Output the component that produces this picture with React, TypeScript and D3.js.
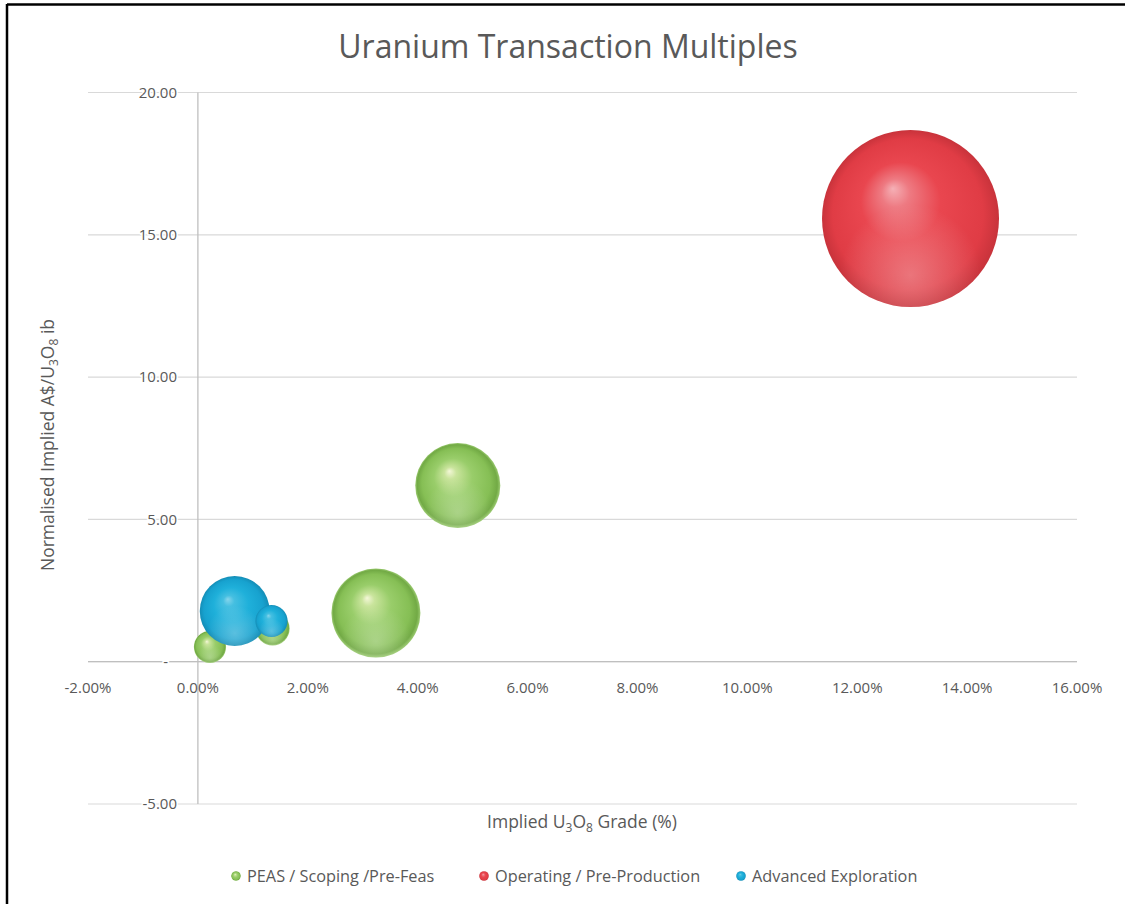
import React from "react";
import * as d3 from "d3";

const W = 1125;
const H = 904;

// Data (x = implied grade %, y = normalised A$/lb, size = bubble size)
const peasX = [0.22, 1.36, 3.24, 4.73];
const peasY = [0.52, 1.17, 1.71, 6.19];
const peasSize = [3.3, 3.7, 25.3, 23.1];

const opX = [12.97];
const opY = [15.57];
const opSize = [100];

const advX = [0.67, 1.34];
const advY = [1.78, 1.43];
const advSize = [15.6, 3.3];

const xTicks = [-2, 0, 2, 4, 6, 8, 10, 12, 14, 16];
const yTicks = [-5, 0, 5, 10, 15, 20];

const seriesNames = ["PEAS / Scoping /Pre-Feas", "Operating / Pre-Production", "Advanced Exploration"];
const seriesIds = ["gGreen", "gRed", "gBlue"];

const FONT = "'Open Sans', 'Noto Sans', sans-serif";
const TXT = "#595959";

export default function App() {
  const x = d3.scaleLinear().domain([-2, 16]).range([88, 1077]);
  const y = d3.scaleLinear().domain([-5, 20]).range([804, 92.5]);
  const r = d3.scaleSqrt().domain([0, 100]).range([0, 88.5]);

  const series = [
    { id: seriesIds[0], xs: peasX, ys: peasY, ss: peasSize },
    { id: seriesIds[1], xs: opX, ys: opY, ss: opSize },
    { id: seriesIds[2], xs: advX, ys: advY, ss: advSize },
  ];

  const f2 = d3.format(".2f");
  const fmtY = (v: number) => (v === 0 ? "-" : f2(v).replace("\u2212", "-"));
  const fmtX = (v: number) => f2(v).replace("\u2212", "-") + "%";

  const legendX = [236, 484, 741];

  return (
    <svg
      width={W}
      height={H}
      style={{ position: "absolute", left: 0, top: 0, background: "#fff" }}
      fontFamily={FONT}
    >
      <defs>
        <radialGradient id="gGreen" cx="50%" cy="50%" r="50%" fx="40%" fy="33%">
          <stop offset="0%" stopColor="#f4f7d8" />
          <stop offset="14%" stopColor="#c9e49c" />
          <stop offset="45%" stopColor="#99cd6a" />
          <stop offset="80%" stopColor="#86bf55" />
          <stop offset="94%" stopColor="#72aa45" />
          <stop offset="100%" stopColor="#9ccb72" />
        </radialGradient>
        <radialGradient id="gRed" cx="50%" cy="50%" r="50%" fx="40%" fy="33%">
          <stop offset="0%" stopColor="#f5b0b6" />
          <stop offset="16%" stopColor="#ee7a82" />
          <stop offset="45%" stopColor="#e9464f" />
          <stop offset="85%" stopColor="#e03c45" />
          <stop offset="100%" stopColor="#c8333b" />
        </radialGradient>
        <radialGradient id="gBlue" cx="50%" cy="50%" r="50%" fx="40%" fy="33%">
          <stop offset="0%" stopColor="#86d5ec" />
          <stop offset="16%" stopColor="#45bfe1" />
          <stop offset="50%" stopColor="#1fb0da" />
          <stop offset="85%" stopColor="#17a2cf" />
          <stop offset="100%" stopColor="#148db6" />
        </radialGradient>
        <radialGradient id="gGlow" cx="50%" cy="82%" r="40%">
          <stop offset="0%" stopColor="#ffffff" stopOpacity={0.28} />
          <stop offset="100%" stopColor="#ffffff" stopOpacity={0} />
        </radialGradient>
      </defs>

      <rect x={0} y={0} width={W} height={H} fill="#fff" />

      {/* Title */}
      <text x={568} y={58} textAnchor="middle" fontSize={32} fill={TXT}>
        Uranium Transaction Multiples
      </text>

      {/* Gridlines */}
      {yTicks.map((t) => (
        <line key={"g" + t} x1={x(-2)} x2={x(16)} y1={y(t)} y2={y(t)} stroke="#d9d9d9" strokeWidth={1.2} />
      ))}
      {/* Axes */}
      <line x1={x(-2)} x2={x(16)} y1={y(0)} y2={y(0)} stroke="#bfbfbf" strokeWidth={1.3} />
      <line x1={x(0)} x2={x(0)} y1={y(20)} y2={y(-5)} stroke="#bfbfbf" strokeWidth={1.3} />

      {/* Y tick labels */}
      {yTicks.map((t) => (
        <text
          key={"yl" + t}
          x={t === 0 ? 168 : 177}
          y={y(t)}
          dy="0.35em"
          textAnchor="end"
          fontSize={15}
          fill={TXT}
          stroke="#fff"
          strokeWidth={3}
          paintOrder="stroke"
        >
          {fmtY(t)}
        </text>
      ))}

      {/* X tick labels */}
      {xTicks.map((t) => (
        <text key={"xl" + t} x={x(t)} y={693} textAnchor="middle" fontSize={15} fill={TXT}>
          {fmtX(t)}
        </text>
      ))}

      {/* Bubbles */}
      {series.map((s) => (
        <g key={s.id}>
          {s.xs.map((xv, i) => (
            <g key={i}>
              <circle cx={x(xv)} cy={y(s.ys[i])} r={r(s.ss[i])} fill={`url(#${s.id})`} />
              <circle cx={x(xv)} cy={y(s.ys[i])} r={r(s.ss[i])} fill="url(#gGlow)" />
            </g>
          ))}
        </g>
      ))}

      {/* Axis titles */}
      <text x={582} y={828} textAnchor="middle" fontSize={17.5} fill={TXT}>
        Implied U
        <tspan fontSize={12} dy={4}>3</tspan>
        <tspan dy={-4}>O</tspan>
        <tspan fontSize={12} dy={4}>8</tspan>
        <tspan dy={-4}> Grade (%)</tspan>
      </text>
      <text
        transform={`translate(54,445) rotate(-90)`}
        textAnchor="middle"
        fontSize={17.5}
        fill={TXT}
      >
        Normalised Implied A$/U
        <tspan fontSize={12} dy={4}>3</tspan>
        <tspan dy={-4}>O</tspan>
        <tspan fontSize={12} dy={4}>8</tspan>
        <tspan dy={-4}> ib</tspan>
      </text>

      {/* Legend */}
      {seriesNames.map((n, i) => (
        <g key={n}>
          <circle cx={legendX[i]} cy={876} r={4.8} fill={`url(#${seriesIds[i]})`} />
          <text x={legendX[i] + 11} y={881.5} fontSize={16.3} fill={TXT}>
            {n}
          </text>
        </g>
      ))}

      {/* Outer frame */}
      <line x1={7} x2={W} y1={4.5} y2={4.5} stroke="#000" strokeWidth={2.5} />
      <line x1={7} x2={7} y1={4} y2={H} stroke="#000" strokeWidth={2.5} />
    </svg>
  );
}
